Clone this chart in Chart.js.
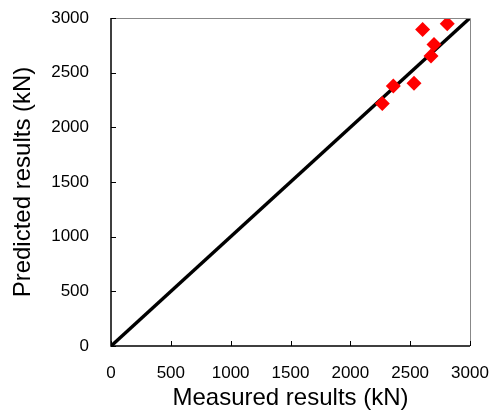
<!DOCTYPE html>
<html lang="en">
<head>
<meta charset="UTF-8">
<title>Predicted vs measured</title>
<script src="https://cdn.jsdelivr.net/npm/chart.js"></script>
<style>
  body, html { margin: 0; padding: 0; background: #fff; }
  #wrap { width: 492px; height: 417px; }
</style>
</head>
<body>
<div id="wrap"><canvas id="chart" width="492" height="417"></canvas></div>
<script>
  // data
  const measured  = [2604, 2810, 2699, 2674, 2359, 2532, 2267];
  const predicted = [2894, 2948, 2757, 2653, 2379, 2404, 2219];
  const lineX = [0, 3000];
  const lineY = [0, 3000];
  const tickValues = [0, 500, 1000, 1500, 2000, 2500, 3000];

  const font = 'Liberation Sans, Arial, sans-serif';

  // short tick marks drawn inside the plot area, plus grey top/right frame
  const frame = {
    id: 'frame',
    afterDraw(chart) {
      const c = chart.ctx, a = chart.chartArea;
      const x = chart.scales.x, y = chart.scales.y;
      c.save();
      c.strokeStyle = '#888';
      c.lineWidth = 1;
      c.beginPath();
      c.moveTo(a.left, a.top + 0.5); c.lineTo(a.right + 0.5, a.top + 0.5);
      c.lineTo(a.right + 0.5, a.bottom);
      c.stroke();
      c.strokeStyle = '#000';
      c.lineWidth = 1;
      c.beginPath();
      tickValues.forEach(v => {
        const px = Math.round(x.getPixelForValue(v)) + 0.5;
        c.moveTo(px, a.bottom); c.lineTo(px, a.bottom - 5);
        const py = Math.round(y.getPixelForValue(v)) + 0.5;
        c.moveTo(a.left, py); c.lineTo(a.left + 5, py);
      });
      c.stroke();
      c.lineWidth = 1.5;
      c.beginPath();
      c.moveTo(a.left, a.top); c.lineTo(a.left, a.bottom); c.lineTo(a.right, a.bottom);
      c.stroke();
      c.restore();
    }
  };

  new Chart(document.getElementById('chart').getContext('2d'), {
    type: 'scatter',
    data: {
      datasets: [
        {
          data: lineX.map((v, i) => ({ x: v, y: lineY[i] })),
          showLine: true,
          borderColor: '#000',
          borderWidth: 3.5,
          pointRadius: 0,
          order: 2
        },
        {
          data: measured.map((v, i) => ({ x: v, y: predicted[i] })),
          pointStyle: 'rectRot',
          pointRadius: 7.5,
          backgroundColor: '#ff0000',
          borderColor: '#ff0000',
          borderWidth: 0,
          order: 1
        }
      ]
    },
    options: {
      responsive: false,
      animation: false,
      layout: { padding: { top: 18, right: 22, left: 0, bottom: 0 } },
      plugins: { legend: { display: false }, tooltip: { enabled: false } },
      scales: {
        x: {
          type: 'linear', min: 0, max: 3000,
          afterBuildTicks: s => { s.ticks = tickValues.map(v => ({ value: v })); },
          afterFit: s => { s.height = 71; s.paddingLeft = 0; s.paddingRight = 0; },
          grid: { display: false, drawTicks: false },
          border: { display: false },
          ticks: { color: '#000', padding: 17, maxRotation: 0, callback: v => String(v), font: { family: font, size: 17 } },
          title: { display: true, text: 'Measured results (kN)', color: '#000', padding: { top: 4 }, font: { family: font, size: 24 } }
        },
        y: {
          type: 'linear', min: 0, max: 3000,
          afterBuildTicks: s => { s.ticks = tickValues.map(v => ({ value: v })); },
          afterFit: s => { s.width = 111; s.paddingTop = 0; s.paddingBottom = 0; },
          grid: { display: false, drawTicks: false },
          border: { display: false },
          ticks: { color: '#000', padding: 22, callback: v => String(v), font: { family: font, size: 17 } },
          title: { display: true, text: 'Predicted results (kN)', color: '#000', padding: { top: 9, bottom: 0 }, font: { family: font, size: 24 } }
        }
      }
    },
    plugins: [frame]
  });
</script>
</body>
</html>
